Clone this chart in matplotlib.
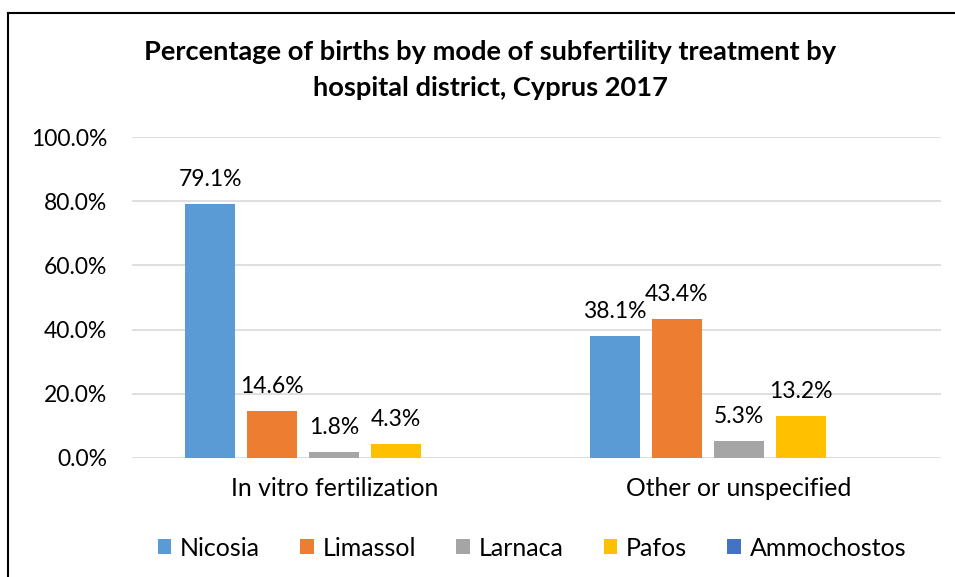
import matplotlib
matplotlib.use("Agg")
import matplotlib.pyplot as plt
from matplotlib.patches import Patch
from matplotlib.lines import Line2D
import numpy as np

plt.rcParams['font.family'] = ['Lato', 'DejaVu Sans']

categories = ["In vitro fertilization", "Other or unspecified"]
series = ["Nicosia", "Limassol", "Larnaca", "Pafos", "Ammochostos"]
values = {
    "Nicosia": [79.1, 38.1],
    "Limassol": [14.6, 43.4],
    "Larnaca": [1.8, 5.3],
    "Pafos": [4.3, 13.2],
    "Ammochostos": [None, None],
}
colors = ["#5B9BD5", "#ED7D31", "#A5A5A5", "#FFC000", "#4472C4"]
yticks = [0, 20, 40, 60, 80, 100]

fig = plt.figure(figsize=(9.55, 5.77), dpi=100)
ax = fig.add_axes([132/955, 1-458/577, (941-132)/955, (458-137)/577])

x = np.arange(len(categories))
bw = 50/405
step = 62/405
for i, (s, c) in enumerate(zip(series, colors)):
    off = (i - (len(series)-1)/2) * step
    vals = values[s]
    for j, v in enumerate(vals):
        if v is None:
            continue
        ax.bar(x[j] + off, v, width=bw, color=c, zorder=3)
        ax.annotate(f"{v:.1f}%", (x[j] + off, v), xytext=(0, 10),
                    textcoords="offset points", ha="center", va="bottom",
                    fontsize=16.5, color="#000000")

ax.set_xlim(-0.5, 1.5)
ax.set_ylim(0, 100)
ax.set_yticks(yticks)
ax.set_yticklabels([f"{t:.1f}%" for t in yticks], fontsize=16.5)
ax.set_xticks(x)
ax.set_xticklabels(categories, fontsize=17.8)
ax.tick_params(axis='both', length=0)
ax.tick_params(axis='y', pad=18)
ax.tick_params(axis='x', pad=14)
ax.grid(axis='y', color="#D9D9D9", linewidth=1.2, zorder=0)
for sp in ax.spines.values():
    sp.set_visible(False)

fig.text(490/955, 1-52/577, "Percentage of births by mode of subfertility treatment by",
         ha="center", va="center", fontsize=19.6, fontweight="bold")
fig.text(490/955, 1-88/577, "hospital district, Cyprus 2017",
         ha="center", va="center", fontsize=19.6, fontweight="bold")

handles = [Patch(facecolor=c, edgecolor="none", label=s) for s, c in zip(series, colors)]
fig.legend(handles=handles, loc="center", bbox_to_anchor=(532/955, 1-548/577),
           ncol=5, frameon=False, fontsize=18, handlelength=0.55, handleheight=0.55,
           handletextpad=0.35, columnspacing=1.6, borderaxespad=0, borderpad=0)

fig.add_artist(Line2D([8/955, 1], [1-13/577, 1-13/577], color="black", linewidth=1.5,
                      transform=fig.transFigure))
fig.add_artist(Line2D([8/955, 8/955], [0, 1-13/577], color="black", linewidth=1.5,
                      transform=fig.transFigure))

fig.savefig("out.png", dpi=100)
